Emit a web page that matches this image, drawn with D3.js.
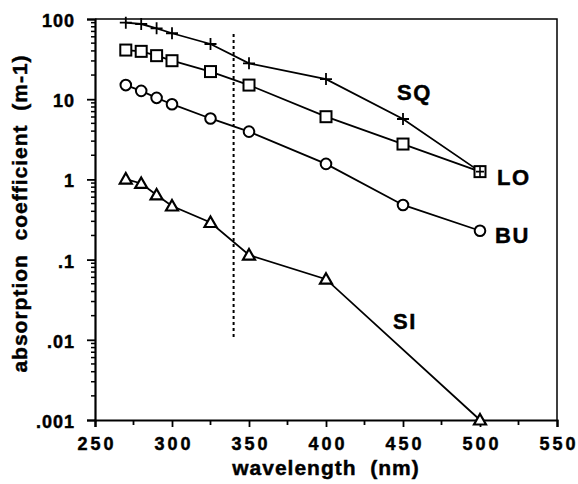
<!DOCTYPE html>
<html><head><meta charset="utf-8">
<script src="https://cdn.jsdelivr.net/npm/d3@7"></script>
<style>body{margin:0;background:#fff}svg{display:block}</style>
</head><body>
<script>
const wavelengths = [270, 280, 290, 300, 325, 350, 400, 450, 500];
const sqValues = [90, 86.6, 76.5, 66.4, 48.8, 28, 17.8, 5.66, 1.25];
const loValues = [41, 39.5, 34.9, 30.2, 22.1, 15.0, 6.05, 2.76, 1.25];
const buValues = [15.0, 12.7, 10.4, 8.66, 5.75, 3.94, 1.56, 0.48, 0.229];
const siWavelengths = [270, 280, 290, 300, 325, 350, 400, 500];
const siValues = [1.01, 0.89, 0.64, 0.466, 0.29, 0.114, 0.057, 0.001];
const xTicks = [250, 300, 350, 400, 450, 500, 550];
const xMinorTicks = [275, 325, 375, 425, 475, 525];
const yTicks = [0.001, 0.01, 0.1, 1, 10, 100];
const yTickLabels = [".001", ".01", ".1", "1", "10", "100"];
const dashedX = 340;
const dashedRange = [0.01, 65];
const seriesLabels = [
  {name: "SQ", x: 397, y: 100},
  {name: "LO", x: 497, y: 185},
  {name: "BU", x: 495, y: 243},
  {name: "SI", x: 393, y: 329}
];

const W = 578, H = 484;
const m = {left: 95, right: 21, top: 19, bottom: 64};
const svg = d3.select("body").append("svg").attr("width", W).attr("height", H);
const x = d3.scaleLinear().domain([250, 550]).range([m.left, W - m.right]);
const y = d3.scaleLog().domain([0.001, 100]).range([H - m.bottom, m.top]);
const font = "'Liberation Sans', Arial, Helvetica, sans-serif";

function heavy(sel) {
  sel.attr("font-family", font).attr("font-weight", "bold")
    .attr("fill", "#000").attr("stroke", "#000").attr("stroke-width", 0.45);
}

// frame (top & right)
svg.append("path")
  .attr("d", `M${x(250)},${y(100)}H${x(550)}V${y(0.001)}`)
  .attr("fill", "none").attr("stroke", "#000").attr("stroke-width", 1.5);

// x axis
const xAxis = svg.append("g").attr("transform", `translate(0,${y(0.001)})`)
  .call(d3.axisBottom(x).tickValues(xTicks).tickSize(7).tickFormat(d3.format("d")));
xAxis.select(".domain").attr("stroke-width", 2.2);
xAxis.selectAll(".tick line").attr("stroke-width", 1.8);
xAxis.selectAll(".tick text").call(heavy).attr("font-size", 18)
  .attr("letter-spacing", "3px").attr("dx", "1.5px").attr("y", 17).attr("dy", "0.71em");
xAxis.selectAll(".minor").data(xMinorTicks).enter().append("line")
  .attr("x1", d => x(d)).attr("x2", d => x(d)).attr("y1", 0).attr("y2", 5)
  .attr("stroke", "#000").attr("stroke-width", 1.8);

// y axis
const yAxis = svg.append("g").attr("transform", `translate(${x(250)},0)`)
  .call(d3.axisLeft(y).tickValues(yTicks).tickSize(8).tickPadding(12)
    .tickFormat((d, i) => yTickLabels[i]));
yAxis.select(".domain").attr("stroke-width", 2.2);
yAxis.selectAll(".tick line").attr("stroke-width", 1.8);
yAxis.selectAll(".tick text").call(heavy).attr("font-size", 18)
  .attr("letter-spacing", "1px").attr("dy", "0.42em");
const minorY = [];
yTicks.slice(0, -1).forEach(p => { for (let k = 2; k <= 9; k++) minorY.push(p * k); });
yAxis.selectAll(".minor").data(minorY).enter().append("line")
  .attr("x1", -4).attr("x2", 0).attr("y1", d => y(d)).attr("y2", d => y(d))
  .attr("stroke", "#000").attr("stroke-width", 1.5);

// axis titles
svg.append("text").attr("x", (x(250) + x(550)) / 2).attr("y", 475)
  .attr("text-anchor", "middle").call(heavy)
  .attr("font-size", 21).attr("letter-spacing", "1px").attr("xml:space", "preserve")
  .text("wavelength  (nm)");
svg.append("text").attr("transform", `translate(27,${(y(100) + y(0.001)) / 2 - 6}) rotate(-90)`)
  .attr("text-anchor", "middle").call(heavy)
  .attr("font-size", 21).attr("letter-spacing", "1px").attr("xml:space", "preserve")
  .text("absorption  coefficient  (m-1)");

// dashed line
svg.append("line").attr("x1", x(dashedX)).attr("x2", x(dashedX))
  .attr("y1", y(dashedRange[1])).attr("y2", y(dashedRange[0]))
  .attr("stroke", "#000").attr("stroke-width", 2).attr("stroke-dasharray", "3,3");

const line = d3.line().x(d => x(d[0])).y(d => y(d[1]));
const series = [
  {xs: wavelengths, vs: sqValues, sym: "plus"},
  {xs: wavelengths, vs: loValues, sym: "square"},
  {xs: wavelengths, vs: buValues, sym: "circle"},
  {xs: siWavelengths, vs: siValues, sym: "triangle"}
];
series.forEach(s => {
  const pts = s.xs.map((w, i) => [w, s.vs[i]]);
  svg.append("path").attr("d", line(pts)).attr("fill", "none")
    .attr("stroke", "#000").attr("stroke-width", 1.8);
});
series.forEach(s => {
  const pts = s.xs.map((w, i) => [w, s.vs[i]]);
  const g = svg.append("g");
  pts.forEach(p => {
    const cx = x(p[0]), cy = y(p[1]);
    if (s.sym === "plus") {
      g.append("path").attr("d", `M${cx - 6},${cy}H${cx + 6}M${cx},${cy - 6}V${cy + 6}`)
        .attr("stroke", "#000").attr("stroke-width", 1.8);
    } else if (s.sym === "square") {
      g.append("rect").attr("x", cx - 5.5).attr("y", cy - 5.5).attr("width", 11).attr("height", 11)
        .attr("fill", "#fff").attr("stroke", "#000").attr("stroke-width", 2);
    } else if (s.sym === "circle") {
      g.append("circle").attr("cx", cx).attr("cy", cy).attr("r", 5.3)
        .attr("fill", "#fff").attr("stroke", "#000").attr("stroke-width", 2);
    } else {
      g.append("path").attr("d", `M${cx},${cy - 6}L${cx + 6},${cy + 4.5}L${cx - 6},${cy + 4.5}Z`)
        .attr("fill", "#fff").attr("stroke", "#000").attr("stroke-width", 2.2);
    }
  });
});
// overlapping plus at 500 drawn over the square
svg.append("path").attr("d", `M${x(500) - 4},${y(sqValues[8])}H${x(500) + 4}M${x(500)},${y(sqValues[8]) - 5}V${y(sqValues[8]) + 6}`)
  .attr("stroke", "#000").attr("stroke-width", 1.6);

// series labels
svg.selectAll(".slabel").data(seriesLabels).enter().append("text")
  .attr("x", d => d.x).attr("y", d => d.y).call(heavy)
  .attr("font-size", 22).attr("letter-spacing", "1.5px").text(d => d.name);
</script>
</body></html>
